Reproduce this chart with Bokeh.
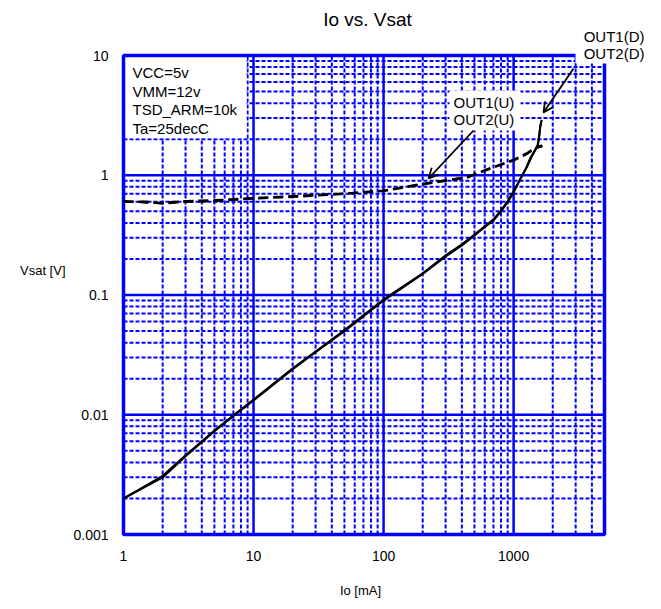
import math
from bokeh.plotting import figure
from bokeh.models import Label, Arrow, OpenHead
from bokeh.embed import file_html
from bokeh.resources import INLINE

# ---- data ----
io_d1 = [1, 2, 3, 5, 7, 10, 20, 33, 50, 100, 200, 300, 400, 500, 600, 700, 800, 900, 1000, 1130, 1250, 1350, 1450, 1530, 1570, 1600, 1630, 1650]
vsat_d1 = [0.002, 0.003, 0.0045, 0.0073, 0.0098, 0.0132, 0.024, 0.036, 0.05, 0.09, 0.15, 0.21, 0.26, 0.315, 0.37, 0.42, 0.5, 0.6, 0.72, 0.94, 1.15, 1.4, 1.6, 1.77, 2.1, 2.5, 2.8, 2.9]
io_d2 = [1, 2, 3, 5, 7, 10, 20, 33, 50, 100, 200, 300, 400, 500, 600, 700, 800, 900, 1000, 1150, 1270, 1380, 1470, 1540, 1580, 1600, 1630]
vsat_d2 = [0.002, 0.0031, 0.0046, 0.0074, 0.0099, 0.0134, 0.0245, 0.0365, 0.051, 0.092, 0.152, 0.215, 0.265, 0.32, 0.375, 0.43, 0.51, 0.61, 0.74, 0.97, 1.18, 1.43, 1.62, 1.8, 2.2, 2.55, 2.75]
io_u1 = [1, 1.5, 2, 3, 5, 10, 20, 50, 100, 135, 200, 300, 443, 664, 1000, 1250, 1475, 1670]
vsat_u1 = [0.6, 0.6, 0.58, 0.6, 0.61, 0.64, 0.66, 0.7, 0.74, 0.78, 0.84, 0.9, 0.96, 1.14, 1.33, 1.5, 1.68, 1.75]
io_u2 = [1, 1.5, 2, 3, 5, 10, 20, 50, 100, 135, 200, 300, 443, 664, 1000, 1250, 1475, 1650]
vsat_u2 = [0.61, 0.59, 0.59, 0.61, 0.62, 0.645, 0.67, 0.705, 0.745, 0.79, 0.85, 0.91, 0.97, 1.15, 1.35, 1.52, 1.7, 1.78]

x_major = [1, 10, 100, 1000]
x_labels = ["1", "10", "100", "1000"]
y_major = [0.001, 0.01, 0.1, 1, 10]
y_labels = ["0.001", "0.01", "0.1", "1", "10"]
x_minor = [m * d for d in (1, 10, 100, 1000) for m in range(2, 10) if m * d < 5000]
y_minor = [round(m * d, 6) for d in (0.001, 0.01, 0.1, 1) for m in range(2, 10)]

conditions = ["VCC=5v", "VMM=12v", "TSD_ARM=10k", "Ta=25decC"]
labels_d = ["OUT1(D)", "OUT2(D)"]
labels_u = ["OUT1(U)", "OUT2(U)"]

# ---- layout (pixels) ----
W, H = 661, 609
F_LEFT, F_RIGHT, F_TOP, F_BOTTOM = 123, 604, 55, 534
XMIN, XMAX, YMIN, YMAX = 1, 5000, 0.001, 10

dx = (math.log10(XMAX) - math.log10(XMIN)) / (F_RIGHT - F_LEFT)
dy = (math.log10(YMAX) - math.log10(YMIN)) / (F_BOTTOM - F_TOP)
x_lo = 10 ** (math.log10(XMIN) - F_LEFT * dx)
x_hi = 10 ** (math.log10(XMAX) + (W - F_RIGHT) * dx)
y_lo = 10 ** (math.log10(YMIN) - (H - F_BOTTOM) * dy)
y_hi = 10 ** (math.log10(YMAX) + F_TOP * dy)


def px_x(px):
    return 10 ** (math.log10(XMIN) + (px - F_LEFT) * dx)


def px_y(py):
    return 10 ** (math.log10(YMAX) - (py - F_TOP) * dy)


BLUE = "#0000ff"
FONT = "Liberation Sans"

p = figure(width=W, height=H, x_axis_type="log", y_axis_type="log",
           x_range=(x_lo, x_hi), y_range=(y_lo, y_hi),
           output_backend="svg", toolbar_location=None, min_border=0)
p.outline_line_color = None
p.xaxis.visible = False
p.yaxis.visible = False
p.xgrid.visible = False
p.ygrid.visible = False
p.background_fill_color = "white"
p.border_fill_color = "white"

# grid
p.segment(x0=x_minor, y0=[YMIN] * len(x_minor), x1=x_minor, y1=[YMAX] * len(x_minor),
          line_color=BLUE, line_width=2, line_dash="4 2")
p.segment(x0=[XMIN] * len(y_minor), y0=y_minor, x1=[XMAX] * len(y_minor), y1=y_minor,
          line_color=BLUE, line_width=2, line_dash="4 2")
p.segment(x0=x_major, y0=[YMIN] * len(x_major), x1=x_major, y1=[YMAX] * len(x_major),
          line_color=BLUE, line_width=2.5)
p.segment(x0=[XMIN] * len(y_major), y0=y_major, x1=[XMAX] * len(y_major), y1=y_major,
          line_color=BLUE, line_width=2.5)

# white box for condition text
p.quad(left=[XMIN], right=[8.85], bottom=[2.04], top=[YMAX], fill_color="white", line_color=None)

# frame
p.quad(left=[XMIN], right=[XMAX], bottom=[YMIN], top=[YMAX], fill_color=None,
       line_color=BLUE, line_width=3.5)

# white boxes behind the curve labels
p.quad(left=[px_x(575)], right=[px_x(652)], bottom=[px_y(63)], top=[px_y(22)],
       fill_color="white", line_color=None)
p.quad(left=[px_x(449)], right=[px_x(520)], bottom=[px_y(130)], top=[px_y(90)],
       fill_color="white", line_color=None)

# curves
p.line(io_u1, vsat_u1, line_color="black", line_width=2.4, line_dash="10 5")
p.line(io_u2, vsat_u2, line_color="black", line_width=2.0, line_dash="10 5")
p.line(io_d1, vsat_d1, line_color="black", line_width=2.2)
p.line(io_d2, vsat_d2, line_color="black", line_width=1.8)

# tick labels
p.text(x=x_major, y=[YMIN] * len(x_major), text=x_labels, y_offset=21,
       text_align="center", text_baseline="middle", text_font_size="14px",
       text_font={"value": FONT}, text_color="black")
p.text(x=[XMIN] * len(y_major), y=y_major, text=y_labels, x_offset=-15,
       text_align="right", text_baseline="middle", text_font_size="14px",
       text_font={"value": FONT}, text_color="black")

for i, t in enumerate(conditions):
    p.add_layout(Label(x=XMIN, y=YMAX, x_offset=9, y_offset=-(17 + 18.7 * i), text=t,
                       text_font=FONT, text_font_size="15px", text_baseline="middle",
                       text_align="left", text_color="black"))

# arrows
p.add_layout(Arrow(end=OpenHead(size=10, line_width=1.8, line_color="black"),
                   x_start=px_x(573), y_start=px_y(68), x_end=px_x(543), y_end=px_y(112),
                   line_width=1.8, line_color="black"))
p.add_layout(Arrow(end=OpenHead(size=10, line_width=1.8, line_color="black"),
                   x_start=px_x(473), y_start=px_y(130), x_end=px_x(428), y_end=px_y(178),
                   line_width=1.8, line_color="black"))

for i, t in enumerate(labels_d):
    p.add_layout(Label(x=px_x(644), y=px_y(36 + 16.5 * i), text=t,
                       text_font=FONT, text_font_size="15px", text_baseline="middle",
                       text_align="right", text_color="black"))
for i, t in enumerate(labels_u):
    p.add_layout(Label(x=px_x(453), y=px_y(102 + 17 * i), text=t,
                       text_font=FONT, text_font_size="15px", text_baseline="middle",
                       text_align="left", text_color="black"))

# title and axis titles
xc = math.sqrt(XMIN * XMAX)
p.add_layout(Label(x=px_x(367), y=px_y(19), text="Io vs. Vsat",
                   text_font=FONT, text_font_size="19px", text_baseline="middle",
                   text_align="center", text_color="black"))
p.add_layout(Label(x=px_x(65), y=px_y(270), text="Vsat [V]",
                   text_font=FONT, text_font_size="13px", text_baseline="middle",
                   text_align="right", text_color="black"))
p.add_layout(Label(x=px_x(360), y=px_y(590), text="Io [mA]",
                   text_font=FONT, text_font_size="13px", text_baseline="middle",
                   text_align="center", text_color="black"))

open("out.html", "w").write(file_html(p, INLINE))
